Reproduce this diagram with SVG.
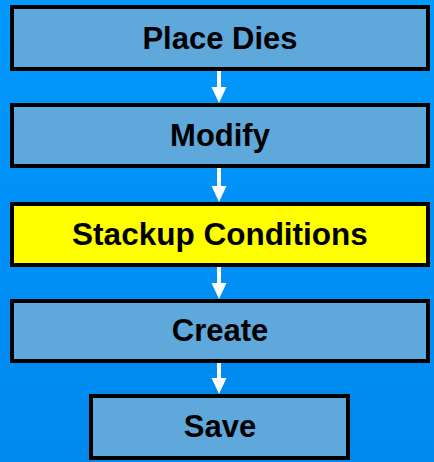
<svg xmlns="http://www.w3.org/2000/svg" width="434" height="462" viewBox="0 0 434 462">
  <defs>
    <linearGradient id="bg" x1="0" y1="0" x2="0" y2="1">
      <stop offset="0" stop-color="#0099ff"/>
      <stop offset="1" stop-color="#0088ee"/>
    </linearGradient>
    <style>
      .box { fill: #5fa8dc; stroke: #000000; stroke-width: 4; }
      .hl { fill: #ffff00; }
      .lbl { font-family: "Liberation Sans", Arial, sans-serif; font-weight: bold; font-size: 31px; fill: #000000; text-anchor: middle; }
      .arrow { stroke: #ffffff; stroke-width: 4; fill: none; }
      .head { fill: #ffffff; }
    </style>
  </defs>

  <rect x="0" y="0" width="434" height="462" fill="url(#bg)"/>

  <!-- white down-arrows between the steps -->
  <g id="connectors">
    <line class="arrow" x1="219" y1="71" x2="219" y2="87"/>
    <path class="head" d="M211.5,87 L226.5,87 L219,103 Z"/>
    <line class="arrow" x1="219" y1="168" x2="219" y2="186"/>
    <path class="head" d="M211.5,186 L226.5,186 L219,202 Z"/>
    <line class="arrow" x1="219" y1="267" x2="219" y2="283"/>
    <path class="head" d="M211.5,283 L226.5,283 L219,299 Z"/>
    <line class="arrow" x1="219" y1="363" x2="219" y2="378"/>
    <path class="head" d="M211.5,378 L226.5,378 L219,394 Z"/>
  </g>

  <g id="place-dies">
    <rect class="box" x="12" y="7" width="416" height="62"/>
    <text class="lbl" x="220" y="49">Place Dies</text>
  </g>

  <g id="modify">
    <rect class="box" x="12" y="105" width="416" height="61"/>
    <text class="lbl" x="220" y="146">Modify</text>
  </g>

  <g id="stackup-conditions">
    <rect class="box hl" x="12" y="204" width="416" height="61"/>
    <text class="lbl" x="220" y="245" style="font-size:31.5px">Stackup Conditions</text>
  </g>

  <g id="create">
    <rect class="box" x="12" y="301" width="416" height="60"/>
    <text class="lbl" x="220" y="341">Create</text>
  </g>

  <g id="save">
    <rect class="box" x="91" y="396" width="257" height="62"/>
    <text class="lbl" x="220" y="437">Save</text>
  </g>
</svg>
